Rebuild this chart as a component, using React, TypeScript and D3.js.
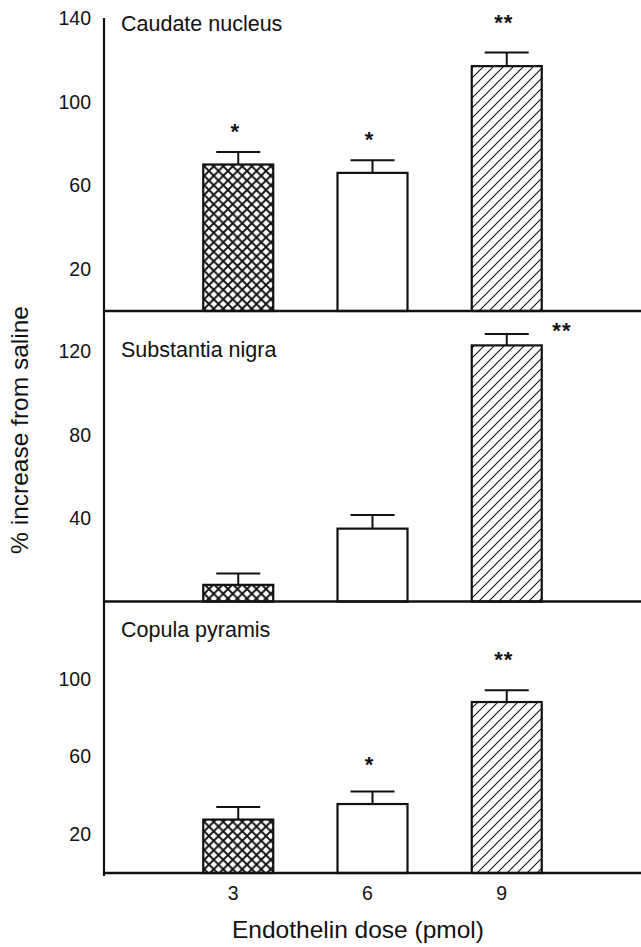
import React from "react";
import * as d3 from "d3";

const doses = [3, 6, 9];
const doseTickLabels = ["3", "6", "9"];
const panelNames = ["Caudate nucleus", "Substantia nigra", "Copula pyramis"];

const caudateMeans = [70, 66, 117];
const caudateErrors = [6, 6, 6.5];
const nigraMeans = [8, 35, 123];
const nigraErrors = [5.5, 6.5, 5.5];
const copulaMeans = [27.5, 35.5, 88];
const copulaErrors = [6.5, 6.5, 6];

const caudateTicks = [20, 60, 100, 140];
const nigraTicks = [40, 80, 120];
const copulaTicks = [20, 60, 100];

const caudateStars = [
  { dose: 3, level: 88, label: "*" },
  { dose: 6, level: 84, label: "*" },
  { dose: 9, level: 140, label: "**" },
];
const nigraStars = [{ dose: 10.3, level: 132.5, label: "**" }];
const copulaStars = [
  { dose: 6, level: 58, label: "*" },
  { dose: 9, level: 112, label: "**" },
];

const fills = ["url(#crosshatch)", "#fff", "url(#hatch)"];

const W = 641;
const H = 947;
const axisX = 104;
const FONT = "'Liberation Sans', Arial, Helvetica, sans-serif";
const INK = "#111";

const panels = [
  { name: panelNames[0], means: caudateMeans, errs: caudateErrors, ticks: caudateTicks, stars: caudateStars, top: 18, base: 311, titleY: 31 },
  { name: panelNames[1], means: nigraMeans, errs: nigraErrors, ticks: nigraTicks, stars: nigraStars, top: 310, base: 601.5, titleY: 357 },
  { name: panelNames[2], means: copulaMeans, errs: copulaErrors, ticks: copulaTicks, stars: copulaStars, top: 601, base: 873, titleY: 637 },
];

const x = d3.scaleLinear().domain([0, 12]).range([axisX, W]);
const barW = 70;
const capW = 44;

export default function App() {
  return (
    <svg
      width={W}
      height={H}
      style={{ position: "absolute", left: 0, top: 0, background: "#fff" }}
      fontFamily={FONT}
    >
      <defs>
        <pattern id="crosshatch" patternUnits="userSpaceOnUse" width={9.5} height={9.5}>
          <rect width={9.5} height={9.5} fill="#fff" />
          <path d="M0,0 L9.5,9.5 M9.5,0 L0,9.5" stroke={INK} strokeWidth={1.9} />
        </pattern>
        <pattern id="hatch" patternUnits="userSpaceOnUse" width={10} height={10}>
          <rect width={10} height={10} fill="#fff" />
          <path d="M-2,2 L2,-2 M0,10 L10,0 M8,12 L12,8" stroke={INK} strokeWidth={1.1} />
        </pattern>
      </defs>
      <rect width={W} height={H} fill="#fff" />

      {panels.map((p, pi) => {
        const y = d3.scaleLinear().domain([0, 140]).range([p.base, p.top]);
        return (
          <g key={pi}>
            {doses.map((d, i) => {
              const cx = x(d);
              const yTop = y(p.means[i]);
              const yErr = y(p.means[i] + p.errs[i]);
              return (
                <g key={i}>
                  <line x1={cx} x2={cx} y1={yTop} y2={yErr} stroke={INK} strokeWidth={2} />
                  <line x1={cx - capW / 2} x2={cx + capW / 2} y1={yErr} y2={yErr} stroke={INK} strokeWidth={2} />
                  <rect
                    x={cx - barW / 2}
                    y={yTop}
                    width={barW}
                    height={p.base - yTop}
                    fill={fills[i]}
                    stroke={INK}
                    strokeWidth={2.2}
                  />
                </g>
              );
            })}
            {p.stars.map((s, i) => (
              <text
                key={i}
                x={x(s.dose) - 3}
                y={y(s.level) + 12}
                textAnchor="middle"
                fontSize={22}
                fontWeight="bold"
                letterSpacing={1}
                fill={INK}
              >
                {s.label}
              </text>
            ))}
            <line x1={axisX - 1} x2={W} y1={p.base} y2={p.base} stroke={INK} strokeWidth={2.6} />
            {p.ticks.map((t) => (
              <text
                key={t}
                x={axisX - 13}
                y={y(t)}
                dy="0.35em"
                textAnchor="end"
                fontSize={19.5}
                fill={INK}
              >
                {t}
              </text>
            ))}
            <text x={121} y={p.titleY} fontSize={21.5} fill={INK}>
              {p.name}
            </text>
          </g>
        );
      })}

      <line x1={axisX} x2={axisX} y1={18} y2={876} stroke={INK} strokeWidth={2.2} />

      {doses.map((d, i) => (
        <text key={d} x={x(d) - 5} y={900} textAnchor="middle" fontSize={19.5} fill={INK}>
          {doseTickLabels[i]}
        </text>
      ))}

      <text x={358} y={938} textAnchor="middle" fontSize={24.5} fill={INK}>
        Endothelin dose (pmol)
      </text>
      <text
        transform={`translate(28,430) rotate(-90)`}
        textAnchor="middle"
        fontSize={24.5}
        fill={INK}
      >
        % increase from saline
      </text>
    </svg>
  );
}
